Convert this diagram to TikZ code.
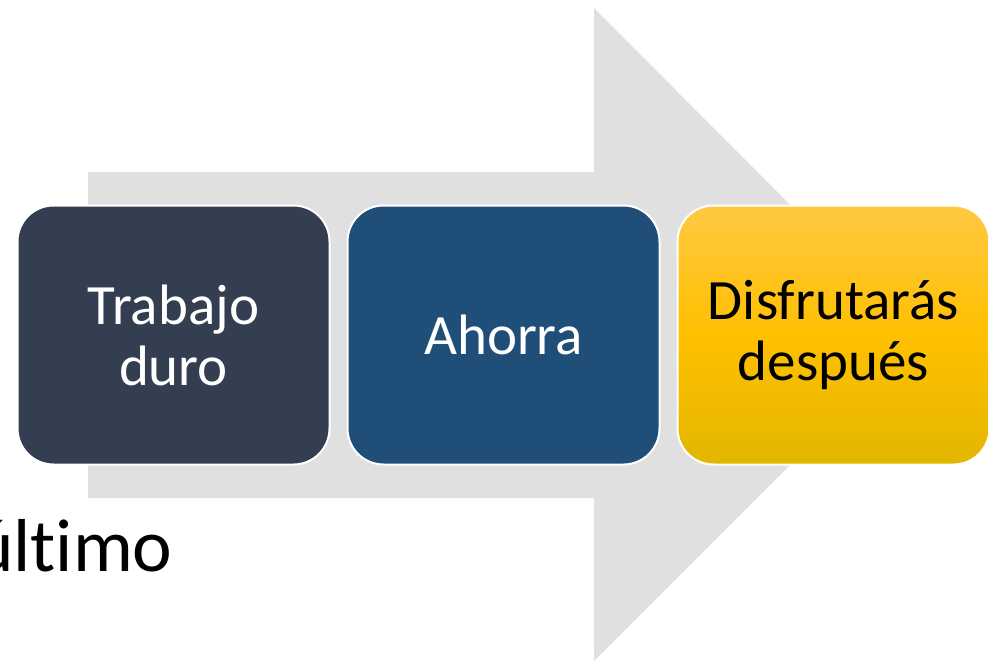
\documentclass[tikz,border=0pt]{standalone}
\usepackage{fontspec}
\setmainfont{Carlito}[Ligatures=NoCommon]
\usetikzlibrary{positioning}
\definecolor{arrowgray}{HTML}{E0E0E0}
\definecolor{slate}{HTML}{333F50}
\definecolor{navy}{HTML}{1F4E79}
\definecolor{gold}{HTML}{FFC000}
\definecolor{goldtop}{HTML}{FFC843}
\definecolor{goldbot}{HTML}{E3B600}
\tikzset{
  stage/.style={rectangle, rounded corners=36pt, draw=white, line width=2pt,
    minimum width=312pt, minimum height=259pt, align=center,
    font=\fontsize{57}{61}\selectfont},
}
\begin{document}
\begin{tikzpicture}[x=1pt,y=-1pt]
    \useasboundingbox (0,0) rectangle (988,662);
    \fill[arrowgray] (88,172) -- (594,172) -- (594,8) -- (920,335) -- (594,661) -- (594,498) -- (88,498) -- cycle;
    \node[stage, fill=slate, text=white] (trabajo) at (173.5,335) {Trabajo\\duro};
    \node[stage, fill=navy, text=white, right=16pt of trabajo] (ahorra) {Ahorra};
    \node[stage, top color=goldtop, bottom color=goldbot, middle color=gold, text=black, right=16pt of ahorra] (disfruta) {Disfrutarás\\después};
    \node[anchor=base west, inner sep=0pt, font=\fontsize{75}{80}\selectfont] (ultimo) at (-26,571) {último};
  \end{tikzpicture}
\end{document}
